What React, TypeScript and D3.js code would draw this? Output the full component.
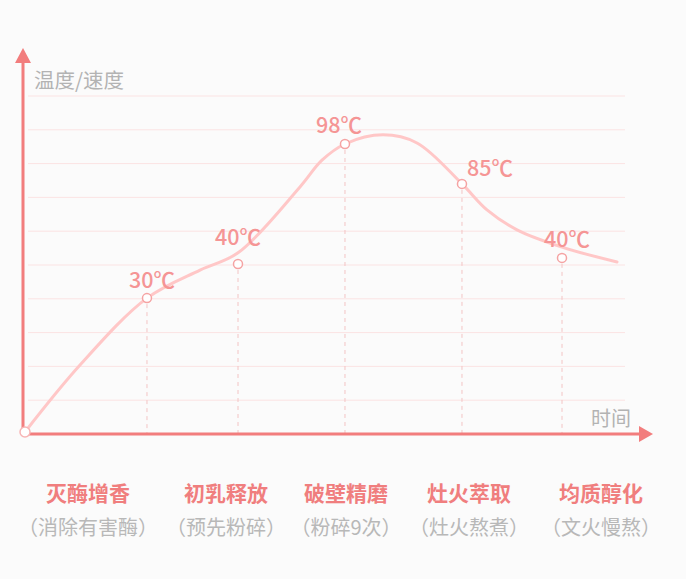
import React from "react";
import * as d3 from "d3";

// ---- data ----
const curveTimes = [0, 9.17, 20.33, 29.17, 35.5, 45.83, 49.5, 53.33, 59.67, 65.33, 72.83, 77, 82, 89.5, 98.67];
const curveLevels = [0.06, 2.04, 4.02, 4.85, 5.36, 7.31, 8.1, 8.58, 8.85, 8.61, 7.4, 6.63, 6.04, 5.53, 5.09];

const markerTimes = [20.33, 35.5, 53.33, 72.83, 89.5];
const markerLevels = [4.02, 5.03, 8.58, 7.4, 5.21];
const markerLabels = ["30℃", "40℃", "98℃", "85℃", "40℃"];

const stageTitles = ["灭酶增香", "初乳释放", "破壁精磨", "灶火萃取", "均质醇化"];
const stageNotes = ["（消除有害酶）", "（预先粉碎）", "（粉碎9次）", "（灶火熬煮）", "（文火慢熬）"];
const stageTimes = [10.5, 33.5, 53.5, 74, 96];

const gridLevels = [1, 2, 3, 4, 5, 6, 7, 8, 9, 10];

const yAxisTitle = "温度/速度";
const xAxisTitle = "时间";

// ---- layout ----
const W = 686;
const H = 579;
const FONT = "'Noto Sans CJK SC', 'Noto Sans', sans-serif";
const labelOffsets: [number, number, string][] = [
  [5, -10, "middle"],
  [0, -19, "middle"],
  [-6, -11, "middle"],
  [5, -8, "start"],
  [5, -11, "middle"],
];

export default function App() {
  const x = d3.scaleLinear().domain([0, 100]).range([25, 625]);
  const y = d3.scaleLinear().domain([0, 10]).range([434, 96]);
  const axisY = y(0);
  const axisX = 23;

  const pts: [number, number][] = curveTimes.map((t, i) => [t, curveLevels[i]]);
  const line = d3
    .line<[number, number]>()
    .x((d) => x(d[0]))
    .y((d) => y(d[1]))
    .curve(d3.curveCatmullRom.alpha(0.5));

  return (
    <svg
      width={W}
      height={H}
      style={{ position: "absolute", left: 0, top: 0, background: "#fbfbfb", display: "block" }}
      fontFamily={FONT}
    >
      {/* grid */}
      {gridLevels.map((g) => (
        <line key={g} x1={28} x2={625} y1={y(g)} y2={y(g)} stroke="#fbe3e3" strokeWidth={1} />
      ))}

      {/* dashed guides */}
      {markerTimes.map((t, i) => (
        <line
          key={"d" + i}
          x1={x(t)}
          x2={x(t)}
          y1={y(markerLevels[i]) + 6}
          y2={axisY}
          stroke="#f3c4c4"
          strokeWidth={1}
          strokeDasharray="4 4"
        />
      ))}

      {/* curve */}
      <path d={line(pts) || ""} fill="none" stroke="#ffc7c7" strokeWidth={3} strokeLinecap="round" />

      {/* axes */}
      <line x1={axisX} x2={axisX} y1={axisY} y2={60} stroke="#f27d7d" strokeWidth={3} />
      <path d={`M${axisX},48 L${axisX - 8},63 L${axisX + 8},63 Z`} fill="#f27d7d" />
      <line x1={axisX} x2={642} y1={axisY} y2={axisY} stroke="#f27d7d" strokeWidth={3} />
      <path d={`M653,${axisY} L639,${axisY - 8} L639,${axisY + 8} Z`} fill="#f27d7d" />

      <text x={34} y={88} fontSize={20.5} fill="#b3b3b3">
        {yAxisTitle}
      </text>
      <text x={591} y={426} fontSize={20} fill="#b3b3b3">
        {xAxisTitle}
      </text>

      {/* origin marker */}
      <circle cx={x(curveTimes[0])} cy={y(curveLevels[0])} r={5} fill="#fff" stroke="#f7b5b5" strokeWidth={1.5} />

      {/* markers */}
      {markerTimes.map((t, i) => (
        <g key={"m" + i}>
          <circle cx={x(t)} cy={y(markerLevels[i])} r={4.5} fill="#fff" stroke="#f5a3a3" strokeWidth={1.5} />
          <text
            x={x(t) + labelOffsets[i][0]}
            y={y(markerLevels[i]) + labelOffsets[i][1]}
            textAnchor={labelOffsets[i][2] as any}
            fontSize={21.5}
            fontWeight={500}
            fill="#f59595"
          >
            {markerLabels[i]}
          </text>
        </g>
      ))}

      {/* stages */}
      {stageTitles.map((s, i) => (
        <g key={"s" + i}>
          <text x={x(stageTimes[i])} y={501} textAnchor="middle" fontSize={21} fontWeight={700} fill="#f07e7e">
            {s}
          </text>
          <text x={x(stageTimes[i])} y={535} textAnchor="middle" fontSize={20} fill="#b8b8b8">
            {stageNotes[i]}
          </text>
        </g>
      ))}
    </svg>
  );
}
